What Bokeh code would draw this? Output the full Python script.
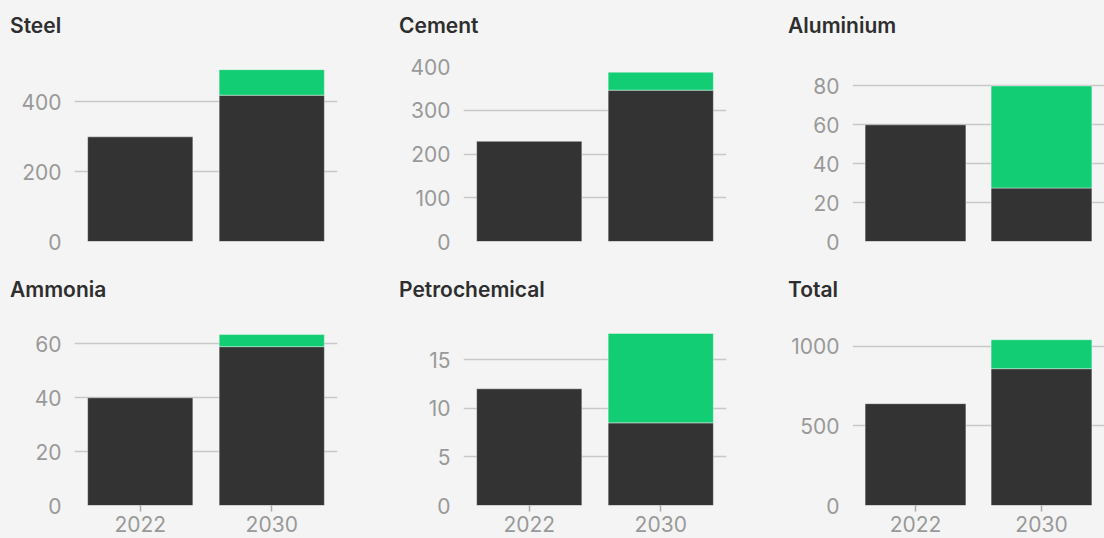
from bokeh.plotting import figure
from bokeh.layouts import column, row
from bokeh.models import ColumnDataSource, FixedTicker, Range1d, Div
from bokeh.embed import file_html
from bokeh.resources import INLINE

# ---- data ----
sectors = ["Steel", "Cement", "Aluminium", "Ammonia", "Petrochemical", "Total"]
years = ["2022", "2030"]
value_2022 = [299, 229, 60, 40, 12, 640]
base_2030 = [418, 346, 27.5, 59, 8.5, 860]
added_2030 = [73, 41, 52.5, 4.5, 9.2, 182]
y_max = [500, 400, 90, 65, 18, 1100]
y_ticks = [[0, 200, 400], [0, 100, 200, 300, 400], [0, 20, 40, 60, 80],
           [0, 20, 40, 60], [0, 5, 10, 15], [0, 500, 1000]]

BG = "#f4f4f4"
DARK = "#333333"
GREEN = "#12cd73"
FONT = "Inter"
FRAME_H = 175
TOP_B = 24

def make_panel(i, bottom_row, last_col):
    width = 326 if last_col else 389
    mb_bottom = 33 if bottom_row else 31
    div_h = 34 if bottom_row else 42
    height = TOP_B + FRAME_H + mb_bottom
    text_top = div_h - 9.5 - 20
    title = Div(text=('<div style="position:absolute; left:10px; top:%.1fpx; '
                      'font-family:Inter; font-size:21px; font-weight:600; '
                      'line-height:25px; color:#2e2e2e; white-space:nowrap;">%s</div>'
                      % (text_top, sectors[i])),
                width=width, height=div_h, margin=(0, 0, 0, 0),
                styles={"position": "relative"})
    p = figure(x_range=years, y_range=Range1d(0, y_max[i]),
               width=width, height=height,
               output_backend="svg", toolbar_location=None,
               min_border_left=74, min_border_right=0 if last_col else 52,
               min_border_top=TOP_B, min_border_bottom=mb_bottom,
               background_fill_color=BG, border_fill_color=BG,
               outline_line_color=None, margin=(0, 0, 0, 0))
    p.x_range.range_padding = 0

    src = ColumnDataSource(dict(year=years, top=[value_2022[i], base_2030[i]]))
    p.vbar(x="year", top="top", bottom=0, width=0.8, source=src,
           fill_color=DARK, line_color="white", line_alpha=0.4, line_width=1)
    src2 = ColumnDataSource(dict(year=[years[1]], bottom=[base_2030[i]],
                                 top=[base_2030[i] + added_2030[i]]))
    p.vbar(x="year", top="top", bottom="bottom", width=0.8, source=src2,
           fill_color=GREEN, line_color="white", line_alpha=0.4, line_width=1)

    p.yaxis.ticker = FixedTicker(ticks=y_ticks[i])
    p.yaxis.axis_line_color = None
    p.yaxis.major_tick_line_color = None
    p.yaxis.minor_tick_line_color = None
    p.yaxis.major_label_standoff = 7
    p.yaxis.major_label_text_font = FONT
    p.yaxis.major_label_text_font_size = "21px"
    p.yaxis.major_label_text_color = "#999999"

    p.ygrid.ticker = FixedTicker(ticks=y_ticks[i])
    p.ygrid.grid_line_color = "#c8c8c8"
    p.ygrid.grid_line_width = 1.5
    p.xgrid.grid_line_color = None
    p.ygrid.level = "underlay"

    if bottom_row:
        p.xaxis.axis_line_color = None
        p.xaxis.major_tick_line_color = "#aaaaaa"
        p.xaxis.major_tick_line_width = 1.5
        p.xaxis.major_tick_out = 6
        p.xaxis.major_tick_in = 0
        p.xaxis.major_label_standoff = 4
        p.xaxis.major_label_text_font = FONT
        p.xaxis.major_label_text_font_size = "21px"
        p.xaxis.major_label_text_color = "#999999"
    else:
        p.xaxis.visible = False
    return column(title, p, spacing=0)

cells = [make_panel(i, i >= 3, i % 3 == 2) for i in range(6)]
layout = column(row(*cells[:3], spacing=0), row(*cells[3:], spacing=0), spacing=0)

html = file_html(layout, INLINE)
html = html.replace("</head>",
                    "<style>html, body { background-color: %s; }</style></head>" % BG, 1)
with open("out.html", "w") as f:
    f.write(html)
